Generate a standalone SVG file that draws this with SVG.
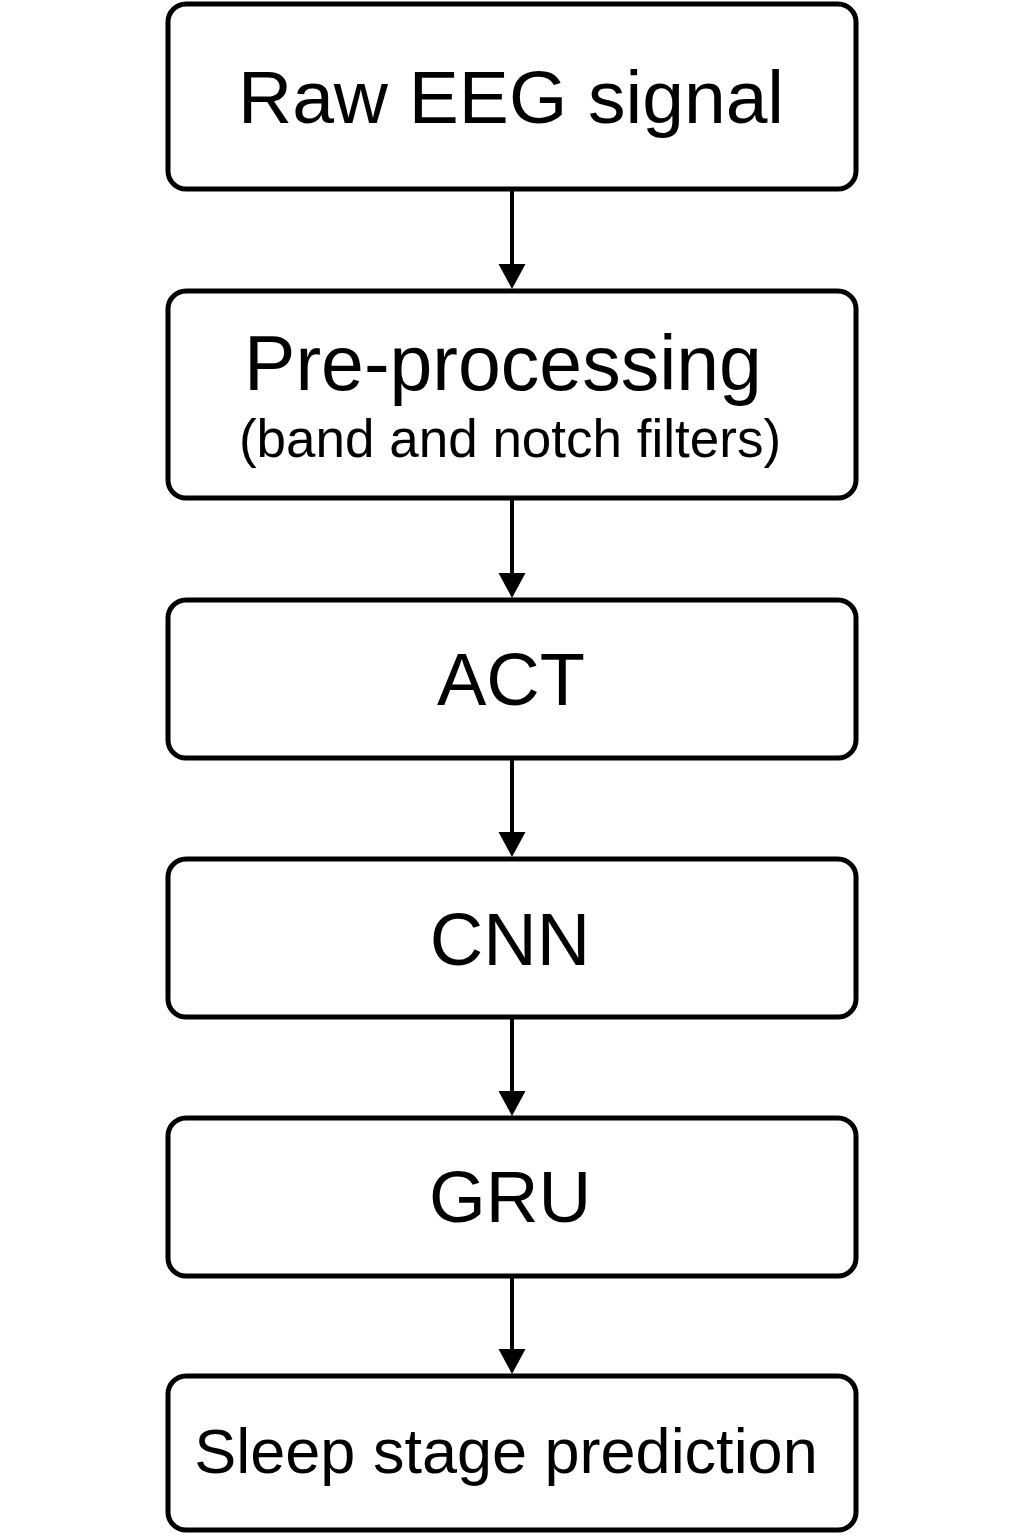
<svg xmlns="http://www.w3.org/2000/svg" width="1024" height="1536" viewBox="0 0 1024 1536">
<style>
.box{fill:#fff;stroke:#000;stroke-width:5}
.t{font-family:"Liberation Sans",Arial,Helvetica,sans-serif;fill:#000;text-anchor:middle}
.c{stroke:#000;stroke-width:4;fill:none}
</style>
<defs>
<marker id="ah" markerUnits="userSpaceOnUse" markerWidth="28" markerHeight="28" refX="3" refY="13.5" orient="auto">
<path d="M0,0 L25,13.5 L0,27 Z" fill="#000"/>
</marker>
</defs>
<rect width="1024" height="1536" fill="#fff"/>
<g id="connectors">
<line class="c" x1="512" y1="191" x2="512" y2="267" marker-end="url(#ah)"/>
<line class="c" x1="512" y1="500" x2="512" y2="576" marker-end="url(#ah)"/>
<line class="c" x1="512" y1="760" x2="512" y2="835" marker-end="url(#ah)"/>
<line class="c" x1="512" y1="1019" x2="512" y2="1094" marker-end="url(#ah)"/>
<line class="c" x1="512" y1="1278" x2="512" y2="1352" marker-end="url(#ah)"/>
</g>
<g id="raw">
<rect class="box" x="168" y="4" width="688" height="185" rx="18"/>
<text class="t" x="511" y="123" font-size="75">Raw EEG signal</text>
</g>
<g id="pre">
<rect class="box" x="168" y="291" width="688" height="207" rx="18"/>
<text class="t" x="503" y="390" font-size="77">Pre-processing</text>
<text class="t" x="510" y="457" font-size="53">(band and notch filters)</text>
</g>
<g id="act">
<rect class="box" x="168" y="600" width="688" height="158" rx="18"/>
<text class="t" x="511" y="705" font-size="74">ACT</text>
</g>
<g id="cnn">
<rect class="box" x="168" y="859" width="688" height="158" rx="18"/>
<text class="t" x="510" y="965" font-size="74">CNN</text>
</g>
<g id="gru">
<rect class="box" x="168" y="1118" width="688" height="158" rx="18"/>
<text class="t" x="510" y="1222" font-size="73">GRU</text>
</g>
<g id="pred">
<rect class="box" x="168" y="1376" width="688" height="154" rx="18"/>
<text class="t" x="506" y="1473" font-size="63">Sleep stage prediction</text>
</g>
</svg>
